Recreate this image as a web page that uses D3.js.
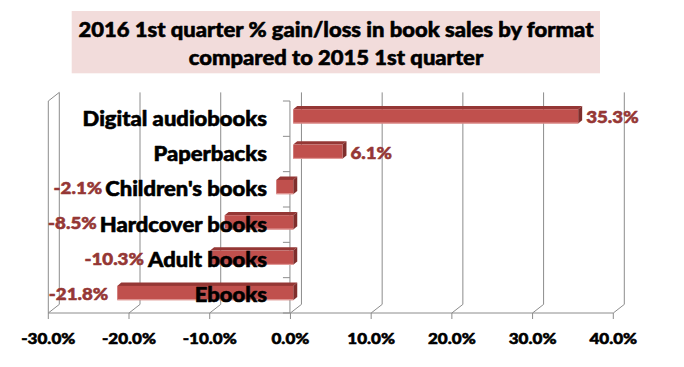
<!DOCTYPE html>
<html>
<head>
<meta charset="utf-8">
<script src="https://cdn.jsdelivr.net/npm/d3@7/dist/d3.min.js"></script>
<style>
  html, body { margin: 0; padding: 0; background: #fff; }
  svg { display: block; }
  text { font-family: Lato, "Open Sans", sans-serif; font-weight: 900; }
</style>
</head>
<body>
<svg id="chart" width="684" height="367"></svg>
<script>
// ---- data ----
const titleLines = ["2016 1st quarter % gain/loss in book sales by format", "compared to 2015 1st quarter"];
const categories = ["Digital audiobooks", "Paperbacks", "Children's books", "Hardcover books", "Adult books", "Ebooks"];
const values = [35.3, 6.1, -2.1, -8.5, -10.3, -21.8];
const xTicks = [-30, -20, -10, 0, 10, 20, 30, 40];
const xTickLabels = ["-30.0%", "-20.0%", "-10.0%", "0.0%", "10.0%", "20.0%", "30.0%", "40.0%"];

// ---- layout ----
const S = 1.1;                 // horizontal text stretch
const floorY = 313, topY = 101;
const depth = { dx: 11, dy: -8.6 };
const barFront = { dx: 2.8, dy: -2.3 };
const barDepth = { dx: 4, dy: -3.3 };
const gridColor = "#8c8c8c";
const barColor = "#C0504D", barTop = "#953735", barSide = "#7f2e2c";
const labelColor = "#953735";

const svg = d3.select("#chart");

const x = d3.scaleLinear().domain([-30, 40]).range([48.3, 613.3]);
const y = d3.scaleBand().domain(categories).range([topY, floorY]).paddingInner(0).paddingOuter(0);

function sText(g, str, tx, ty, anchor, size, color) {
  return g.append("text")
    .attr("transform", `translate(${tx},${ty}) scale(${S},1)`)
    .attr("text-anchor", anchor)
    .attr("font-size", size)
    .attr("fill", color)
    .attr("stroke", color)
    .attr("stroke-width", 0.55)
    .attr("stroke-linejoin", "round")
    .text(str);
}

// title box
const tb = svg.append("g");
tb.append("rect").attr("x", 71.7).attr("y", 11).attr("width", 528.3).attr("height", 62.3).attr("fill", "#F2DCDB");
sText(tb, titleLines[0], 336, 36.5, "middle", 20, "#000");
sText(tb, titleLines[1], 336, 64.5, "middle", 20, "#000");

// walls / grid
const grid = svg.append("g").attr("stroke", gridColor).attr("stroke-width", 1).attr("fill", "none");
xTicks.forEach(t => {
  grid.append("line")
    .attr("x1", x(t) + depth.dx).attr("x2", x(t) + depth.dx)
    .attr("y1", topY + depth.dy).attr("y2", floorY + depth.dy);
  grid.append("line")
    .attr("x1", x(t)).attr("y1", floorY)
    .attr("x2", x(t) + depth.dx).attr("y2", floorY + depth.dy);
  grid.append("line")
    .attr("x1", x(t)).attr("x2", x(t))
    .attr("y1", floorY).attr("y2", floorY + 6);
});
grid.append("line").attr("x1", x(-30)).attr("x2", x(40)).attr("y1", floorY).attr("y2", floorY);
grid.append("line").attr("x1", x(-30)).attr("x2", x(-30)).attr("y1", topY).attr("y2", floorY);
grid.append("line").attr("x1", x(-30)).attr("y1", topY).attr("x2", x(-30) + depth.dx).attr("y2", topY + depth.dy);

// category axis at zero
const cx = x(0) - 0.5;
grid.append("line").attr("x1", cx).attr("x2", cx).attr("y1", topY).attr("y2", floorY);
const bounds = categories.map(c => y(c)).concat([floorY]);
bounds.forEach(b => {
  grid.append("line").attr("x1", cx - 7).attr("x2", cx).attr("y1", b).attr("y2", b);
});

// bars
const bars = svg.append("g");
const barH = y.bandwidth() * 0.405;
categories.forEach((c, i) => {
  const v = values[i];
  const xl = Math.min(x(0), x(v)) + barFront.dx;
  const xr = Math.max(x(0), x(v)) + barFront.dx;
  const cy = y(c) + y.bandwidth() / 2 + barFront.dy;
  const yt = cy - barH / 2, yb = cy + barH / 2;
  const g = bars.append("g");
  g.append("path").attr("fill", barTop)
    .attr("d", `M${xl},${yt}L${xr},${yt}L${xr + barDepth.dx},${yt + barDepth.dy}L${xl + barDepth.dx},${yt + barDepth.dy}Z`);
  g.append("path").attr("fill", barSide)
    .attr("d", `M${xr},${yt}L${xr + barDepth.dx},${yt + barDepth.dy}L${xr + barDepth.dx},${yb + barDepth.dy}L${xr},${yb}Z`);
  g.append("rect").attr("x", xl).attr("y", yt).attr("width", xr - xl).attr("height", barH).attr("fill", barColor);
  g.append("line").attr("x1", xl).attr("x2", xr).attr("y1", yb - 0.5).attr("y2", yb - 0.5)
    .attr("stroke", "#e6a3a1").attr("stroke-width", 1);
});

// category labels
const catG = svg.append("g");
const catNodes = categories.map(c =>
  sText(catG, c, 267, y(c) + y.bandwidth() / 2 + 7, "end", 20, "#000"));

// value labels
const valG = svg.append("g");
categories.forEach((c, i) => {
  const v = values[i];
  const str = v.toFixed(1) + "%";
  const by = y(c) + y.bandwidth() / 2 + 4.8;
  if (v >= 0) {
    sText(valG, str, x(v) + barFront.dx + barDepth.dx + 4, by, "start", 17, labelColor);
  } else {
    const barLeft = x(v) + barFront.dx;
    const bw = catNodes[i].node().getBBox().width * S;
    const catLeft = 267 - bw;
    const endX = Math.min(barLeft - 9, catLeft - 3);
    sText(valG, str, endX, by, "end", 17, labelColor);
  }
});

// x tick labels
const tickG = svg.append("g");
xTicks.forEach((t, i) => {
  sText(tickG, xTickLabels[i], x(t), 343.5, "middle", 15.5, "#000");
});
</script>
</body>
</html>
